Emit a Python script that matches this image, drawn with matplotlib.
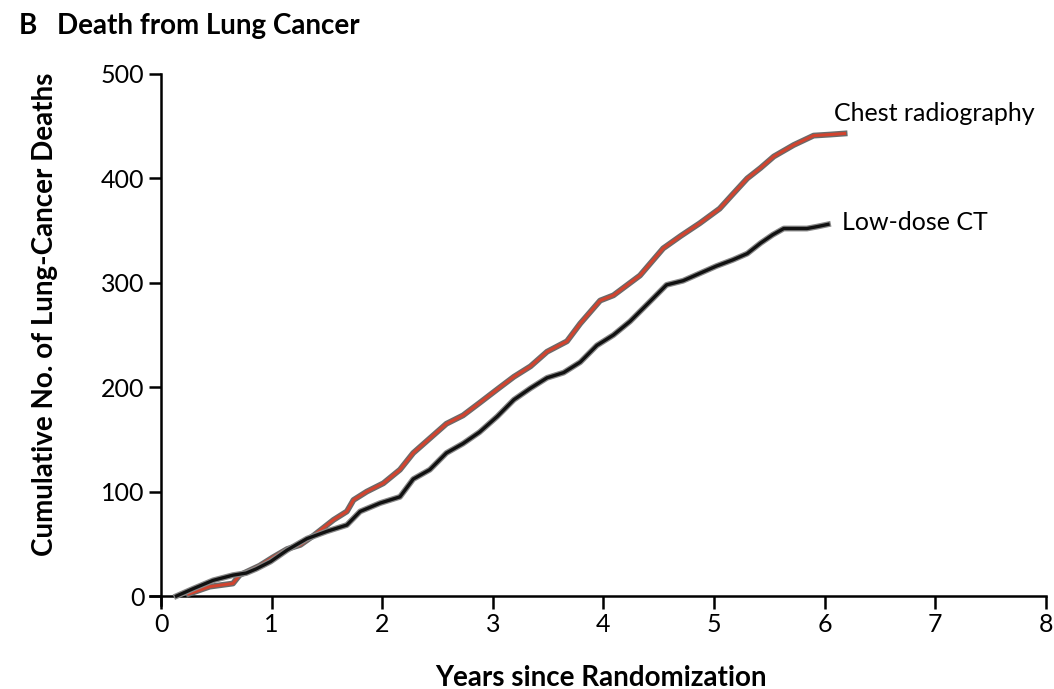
import matplotlib.pyplot as plt
import matplotlib.patheffects as pe

# cumulative lung-cancer deaths, read at irregular follow-up times (years)
ct_years = [0.14, 0.29, 0.47, 0.65, 0.77, 0.86, 0.99, 1.14, 1.32, 1.50, 1.68,
            1.80, 1.98, 2.16, 2.28, 2.43, 2.58, 2.73, 2.88, 3.04, 3.19, 3.34,
            3.49, 3.64, 3.79, 3.94, 4.09, 4.24, 4.42, 4.57, 4.72, 4.87, 5.02,
            5.17, 5.30, 5.42, 5.53, 5.63, 5.74, 5.84, 5.94, 6.03]
ct_deaths = [0, 7, 15, 20, 22, 26, 33, 44, 55, 62, 68,
             81, 89, 95, 112, 121, 137, 146, 157, 172, 188, 199,
             209, 214, 224, 240, 250, 263, 282, 298, 302, 309, 316,
             322, 328, 338, 346, 352, 352, 352, 354, 356]

xr_years = [0.25, 0.44, 0.65, 0.71, 0.89, 1.01, 1.14, 1.26, 1.38, 1.56, 1.68,
            1.74, 1.86, 2.01, 2.16, 2.28, 2.43, 2.58, 2.73, 2.88, 3.04, 3.19,
            3.34, 3.49, 3.67, 3.79, 3.97, 4.09, 4.33, 4.54, 4.70, 4.87, 5.05,
            5.17, 5.30, 5.42, 5.54, 5.72, 5.90, 6.05, 6.18]
xr_deaths = [2, 9, 12, 20, 29, 37, 45, 49, 58, 73, 81,
             92, 100, 108, 121, 137, 151, 165, 173, 185, 198, 210,
             220, 234, 244, 261, 283, 288, 307, 333, 345, 357, 371,
             385, 400, 410, 421, 432, 441, 442, 443]

plt.rcParams['font.family'] = ['Lato', 'DejaVu Sans']

fig = plt.figure(figsize=(10.54, 6.89), dpi=100)
ax = fig.add_axes([0.1423, 0.1213, 0.850, 0.7713])

halo = [pe.Stroke(linewidth=4.2, foreground='#6a6a6a'), pe.Normal()]
ax.plot(xr_years, xr_deaths, color='#d2432e', lw=2.2, path_effects=halo,
        solid_joinstyle='round', zorder=3)
ax.plot(ct_years, ct_deaths, color='#111111', lw=2.4,
        path_effects=[pe.Stroke(linewidth=4.2, foreground='#888888'), pe.Normal()],
        solid_joinstyle='round', zorder=3)

ax.text(6.08, 462, 'Chest radiography', fontsize=18, va='center', ha='left')
ax.text(6.16, 358, 'Low-dose CT', fontsize=18, va='center', ha='left')

ax.set_xlim(-0.1, 8)
ax.set_ylim(-9, 500)
ax.set_xticks(range(0, 9))
ax.set_yticks(range(0, 501, 100))
ax.spines['left'].set_position(('data', 0))
ax.spines['bottom'].set_position(('data', 0))
for s in ['top', 'right']:
    ax.spines[s].set_visible(False)
for s in ['left', 'bottom']:
    ax.spines[s].set_linewidth(1.8)
ax.tick_params(direction='out', length=9, width=1.8, labelsize=18, pad=3)

ax.set_xlabel('Years since Randomization', fontsize=20, fontweight='bold')
ax.set_ylabel('Cumulative No. of Lung-Cancer Deaths', fontsize=20, fontweight='bold')
ax.xaxis.set_label_coords(0.503, -0.112)
ax.yaxis.set_label_coords(-0.103, 0.548)

fig.text(0.018, 0.962, 'B', fontsize=20, fontweight='bold', va='center')
fig.text(0.054, 0.962, 'Death from Lung Cancer', fontsize=20, fontweight='bold',
         va='center')

fig.savefig('out.png', dpi=100, facecolor='white')
